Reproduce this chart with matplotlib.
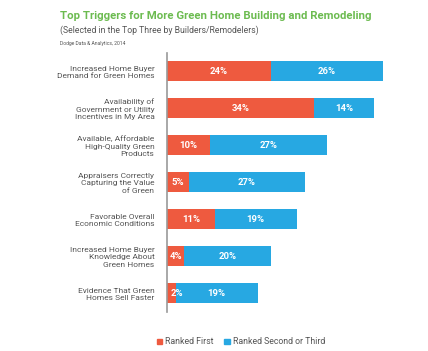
import matplotlib
matplotlib.use("Agg")
import matplotlib.pyplot as plt
from matplotlib.patches import Patch

categories = [
    "Increased Home Buyer\nDemand for Green Homes",
    "Availability of\nGovernment or Utility\nIncentives in My Area",
    "Available, Affordable\nHigh-Quality Green\nProducts",
    "Appraisers Correctly\nCapturing the Value\nof Green",
    "Favorable Overall\nEconomic Conditions",
    "Increased Home Buyer\nKnowledge About\nGreen Homes",
    "Evidence That Green\nHomes Sell Faster",
]
ranked_first = [24, 34, 10, 5, 11, 4, 2]
ranked_second_third = [26, 14, 27, 27, 19, 20, 19]
series_names = ["Ranked First", "Ranked Second or Third"]

RED = "#ee5a3f"
BLUE = "#27a8e2"
GREEN = "#6cbb50"
GRAY = "#555555"
FONT = ["Roboto", "DejaVu Sans"]
plt.rcParams["font.family"] = FONT

W, H = 428, 351
fig = plt.figure(figsize=(W / 100, H / 100), dpi=100)
px = 4.32  # pixels per percent
left_px, top_px, bot_px = 167, 53, 312
xmax = 60
ax = fig.add_axes([left_px / W, 1 - bot_px / H, xmax * px / W, (bot_px - top_px) / H])

y = list(range(len(categories)))
h = 0.54
ax.barh(y, ranked_first, height=h, color=RED, label=series_names[0])
ax.barh(y, ranked_second_third, left=ranked_first, height=h, color=BLUE, label=series_names[1])

for i, (a, b) in enumerate(zip(ranked_first, ranked_second_third)):
    ax.text(a / 2 + (1.4 if a <= 2 else 0), i, f"{a}%", ha="center", va="center",
            color="white", fontsize=6.8, fontweight="bold")
    ax.text(a + b / 2, i, f"{b}%", ha="center", va="center",
            color="white", fontsize=6.8, fontweight="bold")

ax.set_xlim(0, xmax)
ax.set_ylim(len(categories) - 0.49, -0.49)
ax.set_yticks(y)
ax.set_yticklabels(categories, fontsize=6.0, color=GRAY, linespacing=1.3)
ax.set_xticks([])
ax.tick_params(axis="y", length=0, pad=9)
for s in ["top", "right", "bottom"]:
    ax.spines[s].set_visible(False)
ax.spines["left"].set_color("#999999")
ax.spines["left"].set_linewidth(1.2)

fig.text(60 / W, 1 - 16 / H, "Top Triggers for More Green Home Building and Remodeling",
         color=GREEN, fontsize=8.2, fontweight="bold", va="center", ha="left")
fig.text(60 / W, 1 - 30 / H, "(Selected in the Top Three by Builders/Remodelers)",
         color=GRAY, fontsize=6.2, va="center", ha="left")
fig.text(60 / W, 1 - 43 / H, "Dodge Data & Analytics, 2014",
         color=GRAY, fontsize=3.6, va="center", ha="left")

handles = [Patch(color=RED), Patch(color=BLUE)]
fig.legend(handles, series_names, loc="center", bbox_to_anchor=(241 / W, 1 - 342 / H),
           ncol=2, frameon=False, fontsize=6.3, handlelength=0.6, handleheight=0.6,
           handletextpad=0.4, columnspacing=1.2, labelcolor=GRAY)

fig.savefig("out.png", dpi=100, facecolor="white")
